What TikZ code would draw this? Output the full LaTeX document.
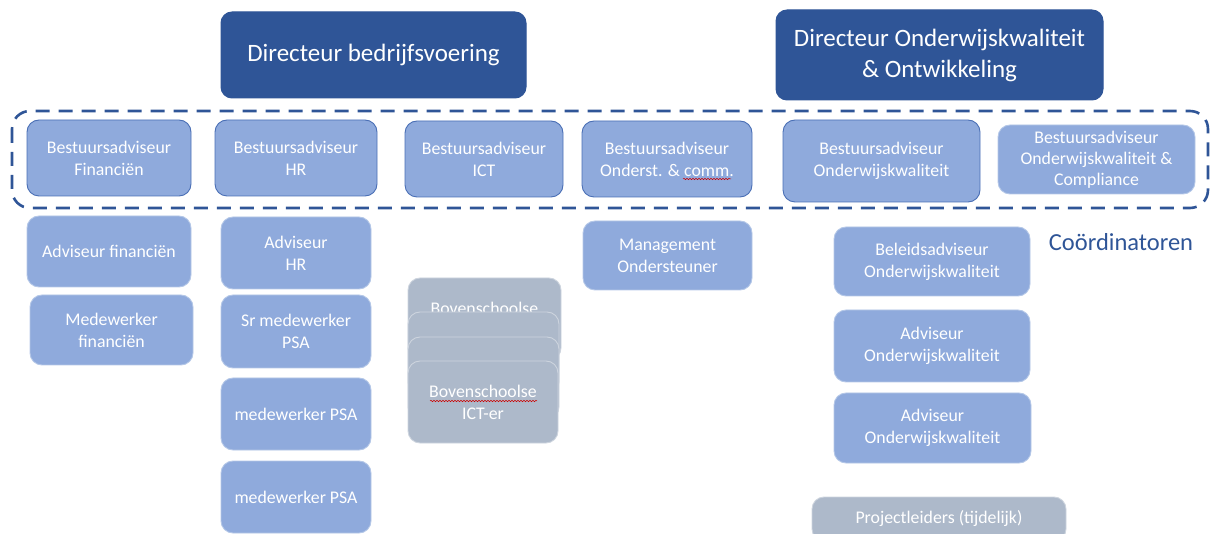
\documentclass[tikz,border=0pt]{standalone}
\usepackage{fontspec}
\setmainfont{Carlito}
\usetikzlibrary{decorations.pathmorphing}
\definecolor{dark}{HTML}{2F5597}
\definecolor{lb}{HTML}{8FAADC}
\definecolor{lbd}{HTML}{4A6FB5}
\definecolor{lbl}{HTML}{B4C7E7}
\definecolor{gr}{HTML}{ADB9CA}
\definecolor{grl}{HTML}{CDD4DE}
\begin{document}
\begin{tikzpicture}[x=1pt,y=-1pt,
  topbox/.style={draw=dark, line width=1pt, fill=dark, rounded corners=11pt, text=white, align=center, font=\fontsize{25}{31}\selectfont, inner sep=0pt},
  advbox/.style={draw=lbd, line width=0.9pt, fill=lb, rounded corners=12pt, text=white, align=center, font=\fontsize{17.8}{22}\selectfont, inner sep=0pt},
  subbox/.style={draw=lbl, line width=0.9pt, fill=lb, rounded corners=12pt, text=white, align=center, font=\fontsize{17.8}{22}\selectfont, inner sep=0pt},
  graybox/.style={draw=grl, line width=0.9pt, fill=gr, rounded corners=12pt, text=white, align=center, font=\fontsize{17.8}{22}\selectfont, inner sep=0pt},
  group/.style={draw=dark, line width=2.6pt, dash pattern=on 14pt off 9pt, rounded corners=18pt},
  spell/.style={draw=red!80!black, line width=0.5pt, decorate, decoration={snake, amplitude=0.7pt, segment length=3pt}}
]
\useasboundingbox (0,0) rectangle (1210,534);

% directors
\node[topbox, minimum width=305pt, minimum height=86pt] (dirb) at (373.5,55) {Directeur bedrijfsvoering};
\node[topbox, minimum width=327pt, minimum height=90pt] (diro) at (939.5,55) {Directeur Onderwijskwaliteit\\\& Ontwikkeling};

% dashed group
\draw[group] (12,111) rectangle (1208,208);

% bestuursadviseurs
\node[advbox, minimum width=164pt, minimum height=76pt] (fin) at (109,158) {Bestuursadviseur\\Financiën};
\node[advbox, minimum width=162pt, minimum height=76pt] (hr) at (296,158) {Bestuursadviseur\\HR};
\node[advbox, minimum width=158pt, minimum height=76pt] (ict) at (484,159) {Bestuursadviseur\\ICT};
\node[advbox, minimum width=170pt, minimum height=76pt] (ond) at (667,159) {Bestuursadviseur\\Onderst. \& comm.};
\node[advbox, minimum width=197pt, minimum height=82pt] (owk) at (881.5,161) {Bestuursadviseur\\Onderwijskwaliteit};
\node[subbox, minimum width=197pt, minimum height=69pt, font=\fontsize{17.8}{21}\selectfont] (comp) at (1096.5,159.5) {Bestuursadviseur\\Onderwijskwaliteit \&\\Compliance};

\node[text=dark, font=\fontsize{24.5}{28}\selectfont, inner sep=0pt] (coord) at (1121,242) {Coördinatoren};

% financien column
\node[subbox, minimum width=164pt, minimum height=71pt] (advfin) at (109,251.5) {Adviseur financiën};
\node[subbox, minimum width=163pt, minimum height=70pt] (medfin) at (111.5,330) {Medewerker\\financiën};

% HR column
\node[subbox, minimum width=150pt, minimum height=72pt] (advhr) at (296,253) {Adviseur\\HR};
\node[subbox, minimum width=150pt, minimum height=73pt] (srpsa) at (296,331.5) {Sr medewerker\\PSA};
\node[subbox, minimum width=150pt, minimum height=72pt] (psa1) at (296,414) {medewerker PSA};
\node[subbox, minimum width=150pt, minimum height=72pt] (psa2) at (296,497) {medewerker PSA};

% ICT stack
\node[graybox, minimum width=153pt, minimum height=82pt] (ictA) at (484.5,319) {Bovenschoolse\\ICT-er};
\node[graybox, minimum width=151pt, minimum height=82pt] (ictB) at (483.5,353) {};
\node[graybox, minimum width=151pt, minimum height=82pt] (ictC) at (483.5,378) {};
\node[graybox, minimum width=150pt, minimum height=82pt] (ictD) at (483,402) {Bovenschoolse\\ICT-er};

% ondersteuning
\node[subbox, minimum width=169pt, minimum height=69pt] (mgmt) at (667.5,255.5) {Management\\Ondersteuner};

% onderwijskwaliteit column
\node[subbox, minimum width=196pt, minimum height=69pt] (bel) at (932,261.5) {Beleidsadviseur\\Onderwijskwaliteit};
\node[subbox, minimum width=196pt, minimum height=72pt] (adv1) at (932,346) {Adviseur\\Onderwijskwaliteit};
\node[subbox, minimum width=197pt, minimum height=70pt] (adv2) at (932.5,428) {Adviseur\\Onderwijskwaliteit};
\node[graybox, minimum width=254pt, minimum height=44pt] (proj) at (939,519) {Projectleiders (tijdelijk)};

% spell-check marks
\draw[spell] (683,179) -- (731,179);
\draw[spell] (430,401) -- (537,401);
\end{tikzpicture}
\end{document}
